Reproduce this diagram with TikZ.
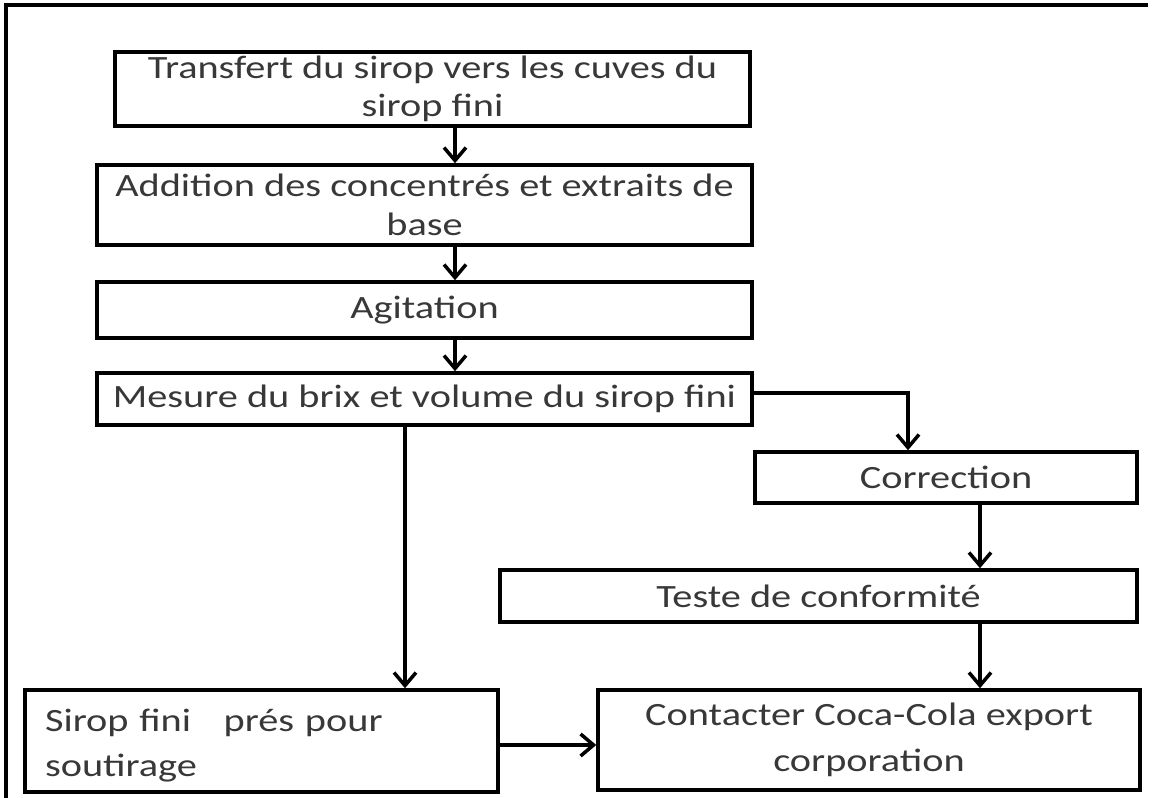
\documentclass[tikz,border=0pt]{standalone}
\usepackage{fontspec}
\usepackage{tikz}
\usetikzlibrary{arrows.meta}
\setmainfont{Carlito}[FakeStretch=1.24]
\definecolor{fltext}{HTML}{383838}
\definecolor{flline}{HTML}{000000}
\tikzset{
  etape/.style={draw=flline, line width=2pt, align=center, text=fltext,
    font=\fontsize{18.5}{22}\selectfont, inner sep=2pt},
  fleche/.style={draw=flline, line width=2pt,
    -{Straight Barb[length=0.26cm, width=0.44cm, line width=2pt]}}
}

\begin{document}
\begin{tikzpicture}[x=0.02cm, y=-0.02cm]
  \useasboundingbox (0,0) rectangle (1160,798);
  \draw[line width=2pt] (6,798) -- (6,5) -- (1148,5);
  \node[etape, minimum width=12.7cm, minimum height=1.48cm] (transfert)
    at (432.5,89) {Transfert du sirop vers les cuves du\\sirop fini};
  \node[etape, minimum width=13.1cm, minimum height=1.6cm] (addition)
    at (424.5,205) {Addition des concentrés et extraits de\\base};
  \node[etape, minimum width=13.1cm, minimum height=1.12cm] (agitation)
    at (424.5,310) {Agitation};
  \node[etape, minimum width=13.1cm, minimum height=1.04cm] (mesure)
    at (424.5,399) {Mesure du brix et volume du sirop fini};
  \node[etape, minimum width=7.64cm, minimum height=1.02cm] (correction)
    at (946,477.5) {Correction};
  \node[etape, minimum width=12.74cm, minimum height=1.04cm] (teste)
    at (818.5,596) {Teste de conformité};
  \node[etape, minimum width=9.46cm, minimum height=2.04cm, align=left,
    text width=8.66cm, text depth=0.85cm] (sirop)
    at (261.5,741) {Sirop fini\ \ \ prés pour\\[4pt]soutirage};
  \node[etape, minimum width=10.84cm, minimum height=2cm,
    text depth=0.1cm] (contact)
    at (869,740) {Contacter Coca-Cola export\\[4pt]corporation};
  % liaisons
  \coordinate (axe) at (455,0);
  \draw[fleche] (axe |- transfert.south) -- (axe |- addition.north);
  \draw[fleche] (axe |- addition.south) -- (axe |- agitation.north);
  \draw[fleche] (axe |- agitation.south) -- (axe |- mesure.north);
  \coordinate (coude) at (908,0);
  \draw[fleche] ([yshift=0.12cm]mesure.east) -| (coude |- correction.north);
  \coordinate (axd) at (980,0);
  \draw[fleche] (axd |- correction.south) -- (axd |- teste.north);
  \draw[fleche] (axd |- teste.south) -- (axd |- contact.north);
  \coordinate (axg) at (405,0);
  \draw[fleche] (axg |- mesure.south) -- (axg |- sirop.north);
  \draw[fleche] ([yshift=-0.08cm]sirop.east) -- ([yshift=-0.08cm]sirop.east -| contact.west);
\end{tikzpicture}
\end{document}
